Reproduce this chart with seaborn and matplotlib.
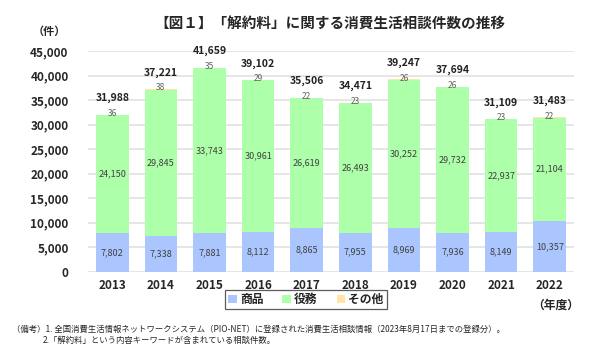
import matplotlib
matplotlib.use("Agg")
import matplotlib.pyplot as plt
import seaborn as sns
import pandas as pd
import numpy as np
from matplotlib.patches import Patch

years = ["2013", "2014", "2015", "2016", "2017", "2018", "2019", "2020", "2021", "2022"]
goods = [7802, 7338, 7881, 8112, 8865, 7955, 8969, 7936, 8149, 10357]
services = [24150, 29845, 33743, 30961, 26619, 26493, 30252, 29732, 22937, 21104]
others = [36, 38, 35, 29, 22, 23, 26, 26, 23, 22]
totals = [31988, 37221, 41659, 39102, 35506, 34471, 39247, 37694, 31109, 31483]
series_names = ["商品", "役務", "その他"]
yticks = [0, 5000, 10000, 15000, 20000, 25000, 30000, 35000, 40000, 45000]

title = "【図１】「解約料」に関する消費生活相談件数の推移"
note1 = "（備考）1. 全国消費生活情報ネットワークシステム（PIO-NET）に登録された消費生活相談情報（2023年8月17日までの登録分）。"
note2 = "2.「解約料」という内容キーワードが含まれている相談件数。"

sns.set_theme(style="white")
plt.rcParams['font.family'] = ['Noto Sans CJK JP', 'DejaVu Sans']

c_goods = "#abc6ff"
c_serv = "#adffa9"
c_oth = "#ffe6a6"

df = pd.DataFrame({"year": years, "goods": goods, "services": services, "others": others})
df["cum2"] = df["goods"] + df["services"]
df["cum3"] = df["cum2"] + df["others"]

fig = plt.figure(figsize=(6, 3.5), dpi=100)
ax = fig.add_axes([0.1467, 0.2237, 0.81, 0.63])

for y in yticks:
    ax.axhline(y, color="#e4e4e4", lw=1.3, zorder=0)

w = 0.67
sns.barplot(data=df, x="year", y="cum3", color=c_oth, saturation=1, width=w, ax=ax, zorder=2, linewidth=0)
sns.barplot(data=df, x="year", y="cum2", color=c_serv, saturation=1, width=w, ax=ax, zorder=3, linewidth=0)
sns.barplot(data=df, x="year", y="goods", color=c_goods, saturation=1, width=w, ax=ax, zorder=4, linewidth=0)

ax.set_xlim(-0.5, 9.5)
ax.set_ylim(0, 45000)
ax.set_yticks(yticks)
ax.set_yticklabels([f"{v:,}" for v in yticks], fontsize=8.5, fontweight="bold")
ax.set_xticks(range(len(years)))
ax.set_xticklabels(years, fontsize=8.5, fontweight="bold")
ax.tick_params(axis="both", length=0, pad=5)
ax.tick_params(axis="y", pad=14)
ax.set_xlabel("")
ax.set_ylabel("")
for s in ax.spines.values():
    s.set_visible(False)

lab_col = "#404040"
for i in range(len(years)):
    g = goods[i]; s = services[i]; o = others[i]; t = totals[i]
    ax.text(i, g / 2, f"{g:,}", ha="center", va="center", fontsize=6.5, color=lab_col, zorder=6)
    ax.text(i, g + s / 2, f"{s:,}", ha="center", va="center", fontsize=6.5, color=lab_col, zorder=6)
    ax.annotate(f"{o}", (i, t), xytext=(0, 1), textcoords="offset points", ha="center", va="center",
                fontsize=6, color="#606060", zorder=6)
    ax.annotate(f"{t:,}", (i, t), xytext=(0, 12), textcoords="offset points", ha="center", va="center",
                fontsize=7.5, fontweight="bold", color="#222222", zorder=6, annotation_clip=False)

fig.text(0.55, 0.931, title, ha="center", va="center", fontsize=10.5, fontweight="bold")
fig.text(0.083, 0.909, "（件）", ha="center", va="center", fontsize=8, fontweight="bold")
fig.text(0.965, 0.127, "（年度）", ha="right", va="center", fontsize=8.5, fontweight="bold")

handles = [Patch(facecolor=c, edgecolor="none") for c in [c_goods, c_serv, c_oth]]
leg = fig.legend(handles, series_names, loc="center", bbox_to_anchor=(0.51, 0.1435), ncol=3,
                 frameon=True, fancybox=False, edgecolor="#333333", fontsize=8.5,
                 handlelength=0.7, handleheight=0.7, handletextpad=0.3, columnspacing=1.6,
                 borderpad=0.25, prop={"weight": "bold", "size": 8.5})
leg.get_frame().set_linewidth(0.9)

fig.text(0.02, 0.058, note1, ha="left", va="center", fontsize=6)
fig.text(0.072, 0.028, note2, ha="left", va="center", fontsize=6)

fig.savefig("out.png", dpi=100)
